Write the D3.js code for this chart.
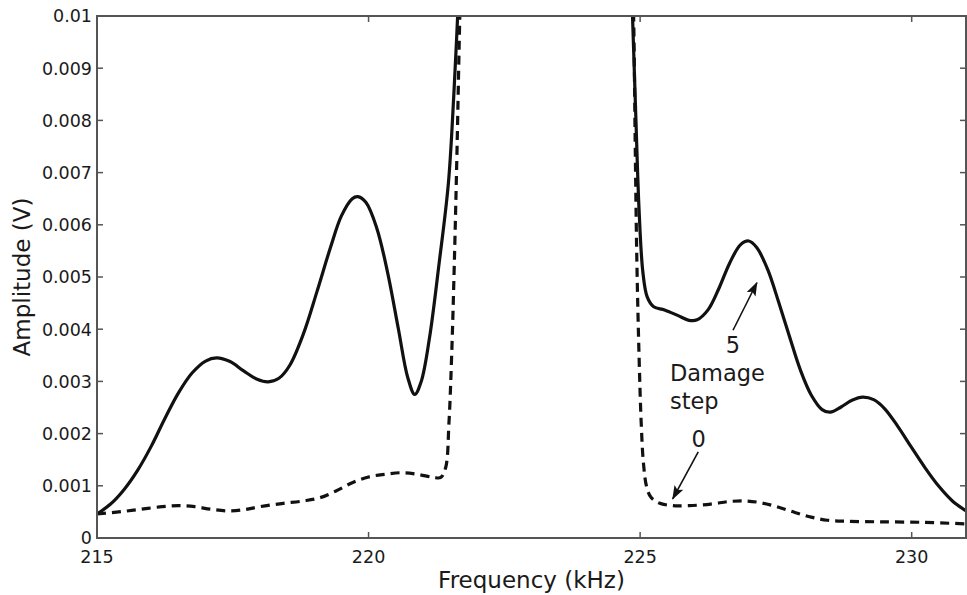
<!DOCTYPE html>
<html>
<head>
<meta charset="utf-8">
<script src="https://cdn.jsdelivr.net/npm/d3@7"></script>
<style>
  html, body { margin: 0; padding: 0; background: #fff; }
  svg { display: block; font-family: "DejaVu Sans", "Liberation Sans", Arial, sans-serif; }
</style>
</head>
<body>
<svg id="chart" width="967" height="595"></svg>
<script>
// ---- Data ----
// Damage step 5 (solid), left lobe
const solidLeftFreq = [215.0, 215.25, 215.5, 215.75, 216.0, 216.25, 216.5, 216.75, 217.0, 217.2, 217.45, 217.7, 217.95, 218.15, 218.35, 218.55, 218.8, 219.05, 219.3, 219.5, 219.7, 219.8, 219.95, 220.15, 220.35, 220.55, 220.72, 220.85, 220.97, 221.12, 221.3, 221.47, 221.57, 221.64, 221.7];
const solidLeftAmp  = [0.00046, 0.00065, 0.00093, 0.0013, 0.00176, 0.00229, 0.00278, 0.00316, 0.00339, 0.00345, 0.00338, 0.0032, 0.00304, 0.00299, 0.00306, 0.00331, 0.00391, 0.00472, 0.00557, 0.00617, 0.0065, 0.00654, 0.00643, 0.00594, 0.00509, 0.004, 0.00308, 0.00275, 0.003, 0.00382, 0.00527, 0.0068, 0.0085, 0.01, 0.0115];
// Damage step 5 (solid), right lobe
const solidRightFreq = [224.82, 224.86, 224.92, 224.98, 225.05, 225.13, 225.25, 225.45, 225.7, 225.9, 226.05, 226.25, 226.45, 226.65, 226.85, 227.0, 227.15, 227.35, 227.55, 227.75, 227.95, 228.15, 228.35, 228.5, 228.7, 228.9, 229.1, 229.3, 229.5, 229.75, 230.0, 230.25, 230.5, 230.75, 231.0];
const solidRightAmp  = [0.012, 0.01, 0.0081, 0.0063, 0.0051, 0.00462, 0.00443, 0.00437, 0.00426, 0.00417, 0.00418, 0.00437, 0.00478, 0.00527, 0.00562, 0.00569, 0.00556, 0.00514, 0.00452, 0.00386, 0.00322, 0.00274, 0.00246, 0.00241, 0.00251, 0.00264, 0.0027, 0.00265, 0.00248, 0.00213, 0.00173, 0.00134, 0.00099, 0.00071, 0.00052];
// Damage step 0 (dashed), left lobe
const dashLeftFreq = [215.0, 215.4, 215.8, 216.2, 216.5, 216.8, 217.1, 217.4, 217.7, 218.0, 218.4, 218.8, 219.1, 219.4, 219.7, 220.0, 220.3, 220.6, 220.9, 221.2, 221.33, 221.42, 221.48, 221.53, 221.58, 221.63, 221.68, 221.72];
const dashLeftAmp  = [0.00046, 0.0005, 0.00055, 0.0006, 0.00062, 0.0006, 0.00055, 0.00052, 0.00054, 0.0006, 0.00066, 0.00071, 0.00077, 0.0009, 0.00106, 0.00117, 0.00122, 0.00125, 0.00122, 0.00116, 0.00116, 0.00135, 0.0022, 0.0035, 0.0053, 0.0075, 0.01, 0.0115];
// Damage step 0 (dashed), right lobe
const dashRightFreq = [224.84, 224.88, 224.91, 224.94, 224.98, 225.02, 225.06, 225.12, 225.2, 225.35, 225.6, 225.9, 226.3, 226.65, 226.95, 227.25, 227.55, 227.85, 228.15, 228.45, 228.8, 229.4, 230.2, 231.0];
const dashRightAmp  = [0.0115, 0.01, 0.0075, 0.0053, 0.0035, 0.0022, 0.00145, 0.00098, 0.00078, 0.00067, 0.00062, 0.00062, 0.00065, 0.0007, 0.00071, 0.00067, 0.00059, 0.00049, 0.0004, 0.00034, 0.00032, 0.00031, 0.0003, 0.00027];

const xTicks = [215, 220, 225, 230];
const yTicks = [0, 0.001, 0.002, 0.003, 0.004, 0.005, 0.006, 0.007, 0.008, 0.009, 0.01];
const yTickLabels = ["0", "0.001", "0.002", "0.003", "0.004", "0.005", "0.006", "0.007", "0.008", "0.009", "0.01"];
const xTickLabels = ["215", "220", "225", "230"];

// ---- Layout ----
const svg = d3.select("#chart");
const L = 97, R = 966, T = 16, B = 538;
const x = d3.scaleLinear().domain([215, 231]).range([L, R]);
const y = d3.scaleLinear().domain([0, 0.01]).range([B, T]);

const zip = (f, a) => f.map((v, i) => [v, a[i]]);
const line = d3.line().x(d => x(d[0])).y(d => y(d[1])).curve(d3.curveCatmullRom.alpha(0.5));

const defs = svg.append("defs");
defs.append("clipPath").attr("id", "plotClip")
  .append("rect").attr("x", L).attr("y", T).attr("width", R - L).attr("height", B - T);
defs.append("marker").attr("id", "arrowHead")
  .attr("viewBox", "0 0 14 10").attr("refX", 13).attr("refY", 5)
  .attr("markerWidth", 14).attr("markerHeight", 10).attr("markerUnits", "userSpaceOnUse")
  .attr("orient", "auto")
  .append("path").attr("d", "M0,0 L14,5 L0,10 L3,5 Z").attr("fill", "#111");

const plot = svg.append("g").attr("clip-path", "url(#plotClip)");

const series = [
  { data: zip(solidLeftFreq, solidLeftAmp), dash: null },
  { data: zip(solidRightFreq, solidRightAmp), dash: null },
  { data: zip(dashLeftFreq, dashLeftAmp), dash: "9,6" },
  { data: zip(dashRightFreq, dashRightAmp), dash: "9,6" }
];
series.forEach(s => {
  plot.append("path").datum(s.data)
    .attr("d", line)
    .attr("fill", "none")
    .attr("stroke", "#111")
    .attr("stroke-width", 3.2)
    .attr("stroke-linejoin", "round")
    .attr("stroke-dasharray", s.dash);
});

// ---- Axes (MATLAB-style box with inward ticks) ----
const axisColor = "#555";
const tickLen = 6;
const gAx = svg.append("g");
yTicks.forEach(v => {
  gAx.append("line").attr("x1", L).attr("x2", L + tickLen).attr("y1", y(v)).attr("y2", y(v)).attr("stroke", axisColor).attr("stroke-width", 1.5);
  gAx.append("line").attr("x1", R).attr("x2", R - tickLen).attr("y1", y(v)).attr("y2", y(v)).attr("stroke", axisColor).attr("stroke-width", 1.5);
});
xTicks.forEach(v => {
  gAx.append("line").attr("x1", x(v)).attr("x2", x(v)).attr("y1", B).attr("y2", B - tickLen).attr("stroke", axisColor).attr("stroke-width", 1.5);
  gAx.append("line").attr("x1", x(v)).attr("x2", x(v)).attr("y1", T).attr("y2", T + tickLen).attr("stroke", axisColor).attr("stroke-width", 1.5);
});
gAx.append("rect").attr("x", L).attr("y", T).attr("width", R - L).attr("height", B - T)
  .attr("fill", "none").attr("stroke", axisColor).attr("stroke-width", 2);

// tick labels
svg.append("g").selectAll("text").data(yTicks).join("text")
  .attr("x", L - 5).attr("y", d => y(d)).attr("dy", "0.36em")
  .attr("text-anchor", "end").attr("font-size", 17.5).attr("fill", "#1a1a1a")
  .text((d, i) => yTickLabels[i]);
svg.append("g").selectAll("text").data(xTicks).join("text")
  .attr("x", d => x(d)).attr("y", 563)
  .attr("text-anchor", "middle").attr("font-size", 17.5).attr("fill", "#1a1a1a")
  .text((d, i) => xTickLabels[i]);

// axis titles
svg.append("text").attr("x", (L + R) / 2).attr("y", 588)
  .attr("text-anchor", "middle").attr("font-size", 23).attr("fill", "#1a1a1a")
  .text("Frequency (kHz)");
svg.append("text").attr("transform", `translate(30,${(T + B) / 2}) rotate(-90)`)
  .attr("text-anchor", "middle").attr("font-size", 23).attr("fill", "#1a1a1a")
  .text("Amplitude (V)");

// ---- Annotations ----
const ann = svg.append("g").attr("fill", "#1a1a1a").attr("font-size", 22.5);
ann.append("text").attr("x", x(226.71)).attr("y", y(0.00354)).attr("text-anchor", "middle").text("5");
ann.append("text").attr("x", x(225.55)).attr("y", y(0.00301)).text("Damage");
ann.append("text").attr("x", x(225.55)).attr("y", y(0.00247)).text("step");
ann.append("text").attr("x", x(226.08)).attr("y", y(0.00174)).attr("text-anchor", "middle").text("0");

ann.append("line").attr("x1", x(226.71)).attr("y1", y(0.00398)).attr("x2", x(227.15)).attr("y2", y(0.00489))
  .attr("stroke", "#111").attr("stroke-width", 1.6).attr("marker-end", "url(#arrowHead)");
ann.append("line").attr("x1", x(226.07)).attr("y1", y(0.00165)).attr("x2", x(225.6)).attr("y2", y(0.00075))
  .attr("stroke", "#111").attr("stroke-width", 1.6).attr("marker-end", "url(#arrowHead)");
</script>
</body>
</html>
